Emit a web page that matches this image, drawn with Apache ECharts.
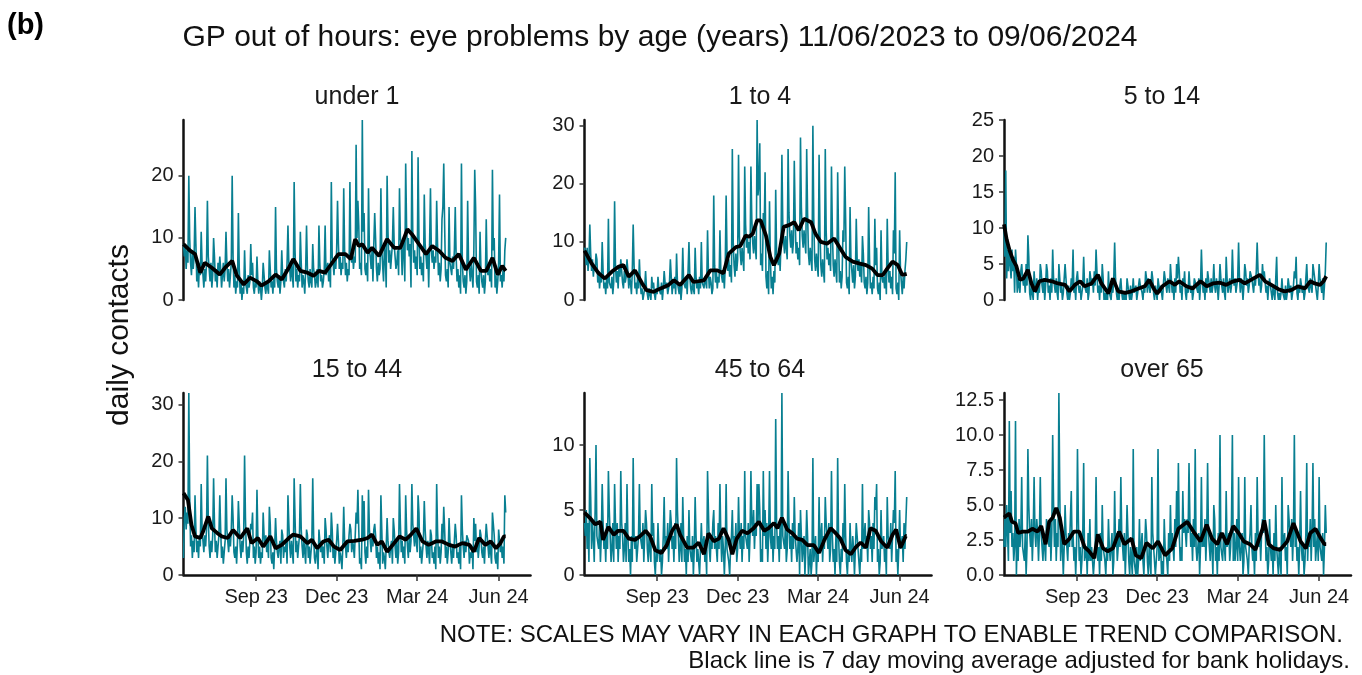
<!DOCTYPE html>
<html>
<head>
<meta charset="utf-8">
<script src="https://cdn.jsdelivr.net/npm/echarts@6/dist/echarts.min.js"></script>
<style>
  html, body { margin: 0; padding: 0; background: #fff; }
  #chart { width: 1362px; height: 675px; }
</style>
</head>
<body>
<div id="chart"></div>
<script>
// panels (age groups, years)
const panelTitles = ['under 1', '1 to 4', '5 to 14', '15 to 44', '45 to 64', 'over 65'];

// x axis: days since 11/06/2023
const tickDays = [82, 173, 264, 356];
const tickLabels = ['Sep 23', 'Dec 23', 'Mar 24', 'Jun 24'];

// y axis tops and tick labels per panel
const yMax = [29, 31, 25, 32, 14, 13];
const yTicks = [
  [0, 10, 20],
  [0, 10, 20, 30],
  [0, 5, 10, 15, 20, 25],
  [0, 10, 20, 30],
  [0, 5, 10],
  [0, 2.5, 5, 7.5, 10, 12.5]
];

// daily contacts: Sun 11/06/2023, then one row per week Mon..Sun
const under1Daily = [9,
  7,9,5,8,6,20,10, 6,4,8,5,7,15,9, 3,5,2,6,4,11,6, 4,2,5,3,6,16,7,
  5,3,6,2,4,10,7, 3,5,2,6,4,7,5, 2,4,6,3,5,11,6, 3,5,2,4,6,20,7,
  2,4,1,3,2,14,5, 1,3,0,2,1,8,3, 2,1,4,2,3,9,4, 6,2,1,3,2,7,3,
  1,3,2,0,2,6,4, 2,1,3,2,1,8,5, 2,3,1,4,2,15,5, 3,2,4,1,3,8,4,
  4,2,5,3,6,12,6, 5,3,6,4,2,19,8, 3,5,2,4,3,11,6, 2,4,3,1,5,12,5,
  3,2,5,3,2,9,5, 4,2,3,5,2,12,6, 3,4,2,3,5,12,4, 4,6,3,5,2,19,7,
  6,4,7,5,8,16,9, 5,7,4,6,5,18,8, 4,6,3,5,4,19,7, 6,8,5,7,6,25,10,
  16,12,5,6,4,29,11, 14,5,4,6,3,18,8, 7,5,8,3,9,14,10, 5,3,6,4,5,18,8,
  8,3,9,7,2,20,11, 6,8,5,7,9,15,9, 7,5,6,8,4,18,10, 9,4,8,10,3,22,12,
  8,10,7,9,2,24,11, 6,8,5,7,4,23,10, 5,7,4,6,3,17,9, 7,5,8,2,9,18,8,
  6,8,5,7,6,16,9, 4,6,3,5,13,15,22, 12,4,3,5,2,15,6, 6,4,7,5,8,15,7,
  3,5,2,4,1,22,6, 3,2,4,1,3,16,6, 5,3,6,4,2,8,21, 15,3,2,4,1,11,5,
  3,2,4,1,3,13,5, 4,6,3,5,2,21,8, 10,2,4,1,3,6,17, 3,4,2,5,3,8,10
];
const age1to4Daily = [9,
  8,6,9,5,7,13,8, 5,7,4,6,5,8,7, 3,5,2,4,3,10,5, 2,3,1,4,2,14,3,
  3,2,4,1,3,17,6, 3,5,2,6,4,7,5, 3,2,5,3,4,7,5, 2,4,3,1,5,13,6,
  2,3,1,4,2,7,3, 1,2,0,1,2,5,2, 1,0,2,1,0,4,2, 3,1,0,2,1,4,2,
  2,1,3,0,2,5,3, 2,3,1,2,3,7,4, 1,3,2,4,1,8,3, 2,1,3,0,2,9,3,
  3,2,4,1,5,10,4, 2,1,3,2,1,9,4, 2,3,1,4,2,10,3, 3,2,4,3,2,12,5,
  2,4,3,1,2,18,6, 3,5,2,4,3,12,5, 4,3,5,2,6,18,8, 5,7,4,6,3,26,10,
  6,4,8,5,7,25,11, 8,6,9,7,5,23,13, 9,11,8,10,7,23,14, 10,8,11,9,7,31,18,
  20,27,6,8,5,15,12, 22,4,2,5,1,17,7, 2,4,1,5,3,19,8, 8,6,9,5,10,25,13,
  10,8,11,9,7,26,15, 11,9,12,8,10,24,14, 8,10,7,9,6,28,16, 11,9,12,10,8,26,15,
  8,6,9,7,5,30,14, 7,5,8,6,4,25,12, 6,4,7,5,3,26,12, 7,9,6,8,5,23,12,
  6,4,7,5,3,22,11, 3,5,2,4,12,10,23, 14,3,2,4,1,16,7, 5,3,6,2,4,14,7,
  5,7,4,6,3,11,8, 3,2,4,1,3,16,7, 2,3,1,4,2,14,6, 9,2,1,3,0,12,4,
  3,4,2,5,1,14,6, 3,5,2,4,1,12,8, 22,2,1,3,0,12,5, 3,1,4,2,5,7,10
];
const age5to14Daily = [10,
  6,18,3,7,4,7,5, 3,7,4,6,1,7,5, 1,3,2,1,4,5,3, 2,3,1,5,2,9,6,
  1,0,2,1,0,4,2, 1,3,0,2,1,5,4, 2,1,3,0,2,5,4, 1,2,0,3,1,7,3,
  2,1,3,1,0,5,3, 1,2,0,1,3,5,3, 1,0,2,0,1,3,2, 7,1,2,0,3,4,2,
  1,2,0,1,2,6,2, 2,1,3,0,1,4,3, 2,3,1,4,2,7,4, 1,2,0,3,1,5,3,
  0,1,0,1,0,4,1, 1,0,2,1,3,8,3, 1,0,1,0,2,3,1, 0,1,0,1,0,3,2,
  1,0,2,0,1,3,1, 1,2,0,1,2,3,2, 2,1,0,2,1,4,3, 1,3,2,1,2,4,3,
  1,0,2,1,0,3,2, 1,2,1,0,2,4,3, 2,1,3,2,1,5,3, 1,2,0,3,1,5,3,
  6,4,1,2,0,3,2, 4,1,0,2,1,4,2, 1,2,0,1,3,3,2, 2,1,3,0,2,7,3,
  1,2,0,3,1,4,3, 2,1,3,1,2,5,2, 1,3,2,0,2,5,3, 2,1,3,1,0,6,3,
  1,2,3,1,2,7,3, 2,3,1,2,3,8,3, 1,3,2,0,2,5,4, 2,3,1,2,4,4,3,
  2,1,3,2,4,8,4, 2,3,1,2,5,3,4, 4,1,2,0,2,3,2, 1,0,2,1,0,3,6,
  1,0,1,0,1,3,1, 1,0,2,0,1,3,2, 1,2,0,1,2,4,3, 6,1,0,2,1,3,2,
  1,2,0,1,3,5,2, 2,1,3,2,1,5,4, 4,2,1,0,2,5,3, 2,1,3,0,2,4,8
];
const age15to44Daily = [3,
  10,12,8,11,9,32,14, 5,7,3,6,4,14,8, 4,6,3,7,5,16,8, 6,4,7,5,8,21,10,
  5,3,6,4,7,17,9, 4,6,3,5,7,14,8, 3,5,2,4,6,17,8, 6,4,7,5,8,14,10,
  4,3,5,2,6,13,9, 5,3,6,4,7,21,10, 4,2,5,3,6,9,8, 11,3,5,2,4,15,7,
  3,5,2,4,3,11,7, 5,7,4,6,3,12,9, 3,2,4,1,5,10,6, 4,3,5,6,2,8,7,
  3,5,4,6,2,14,9, 5,3,6,4,2,17,10, 4,6,3,5,7,16,8, 5,3,6,4,2,8,7,
  3,5,2,4,6,17,7, 3,2,4,5,1,8,6, 4,6,3,5,2,10,8, 5,3,6,7,4,11,8,
  3,5,2,4,6,9,6, 2,4,3,1,5,12,6, 5,3,6,4,7,9,8, 4,6,5,3,7,11,9,
  15,8,2,3,1,14,6, 13,4,2,5,3,15,8, 6,4,7,5,8,9,7, 3,5,2,4,1,14,8,
  2,4,3,1,5,10,6, 4,3,5,6,2,10,8, 5,3,6,2,4,16,9, 4,6,3,5,2,14,8,
  5,3,7,4,6,16,9, 7,5,8,6,4,14,11, 3,5,2,4,6,13,8, 5,3,6,4,2,8,7,
  3,4,2,5,1,16,8, 3,5,2,4,9,6,12, 8,3,5,2,4,10,6, 4,2,5,3,6,9,7,
  3,4,2,5,1,14,8, 5,3,6,4,7,7,6, 2,4,3,5,1,10,6, 9,4,6,3,5,8,7,
  4,3,5,2,6,9,7, 5,3,6,4,2,11,9, 7,3,2,4,1,8,6, 4,6,3,5,2,14,11
];
const age45to64Daily = [4,
  3,5,2,4,1,9,6, 2,4,3,1,5,10,3, 3,2,4,1,3,7,4, 2,3,1,4,2,8,5,
  3,1,2,4,1,7,4, 2,4,1,3,2,8,4, 3,1,2,4,1,7,3, 1,2,0,3,1,9,3,
  2,3,1,2,3,7,3, 3,2,4,1,3,5,4, 2,1,3,2,1,7,3, 4,1,0,2,1,4,2,
  1,2,0,1,3,6,2, 3,2,4,1,3,5,4, 2,3,1,4,2,9,5, 3,1,2,4,1,6,3,
  1,2,0,3,1,5,2, 2,1,3,0,2,6,3, 1,2,1,0,2,4,2, 2,3,1,2,0,8,5,
  2,1,3,2,4,5,2, 3,2,1,4,2,7,3, 1,3,2,0,2,7,2, 2,1,0,2,3,5,2,
  3,2,4,1,2,6,3, 2,4,1,3,2,8,3, 3,2,4,1,3,8,4, 3,5,2,4,3,7,4,
  7,5,1,2,1,8,3, 5,2,4,1,3,8,3, 2,4,1,3,2,12,4, 2,3,1,4,2,14,3,
  3,2,4,1,2,8,4, 2,3,1,4,2,6,3, 3,1,2,4,0,5,3, 1,2,3,0,2,5,3,
  0,1,2,0,1,9,1, 1,3,0,2,1,6,2, 2,4,1,3,2,6,4, 3,2,4,1,2,8,3,
  1,2,0,3,1,9,3, 1,0,2,1,4,2,7, 3,1,0,2,1,4,2, 1,3,2,0,2,4,3,
  2,1,0,2,1,7,2, 3,4,2,3,1,5,4, 2,3,1,4,2,6,5, 7,1,2,0,1,5,2,
  2,3,1,2,0,6,3, 3,2,4,1,3,5,4, 8,1,2,0,2,5,2, 2,3,1,4,2,4,6
];
const over65Daily = [2,
  4,2,5,3,1,11,3, 6,2,3,1,2,11,0, 3,1,4,2,3,7,2, 2,1,3,0,2,9,5,
  3,2,4,1,3,7,3, 2,4,3,1,3,7,3, 2,1,3,2,1,4,3, 3,2,4,1,3,10,5,
  2,4,1,3,2,13,6, 1,3,2,0,2,5,3, 2,1,3,2,4,6,2, 3,1,2,0,2,9,4,
  1,2,0,1,3,8,1, 1,2,0,3,1,4,1, 2,1,0,1,2,7,2, 1,2,0,3,1,5,2,
  2,1,0,2,1,4,2, 1,2,3,0,1,6,2, 3,1,2,4,2,7,3, 2,1,3,0,2,5,3,
  1,0,2,1,0,9,1, 1,0,2,0,1,4,1, 2,3,1,0,2,4,3, 1,0,2,1,0,7,3,
  2,1,0,1,2,9,1, 1,2,0,1,0,4,2, 2,1,0,3,1,5,2, 3,2,1,4,2,6,3,
  8,3,1,2,1,6,3, 4,3,2,4,3,8,4, 2,3,1,4,2,9,2, 1,2,3,0,2,7,2,
  3,2,4,1,3,8,3, 2,1,3,2,0,5,4, 1,2,0,3,1,10,2, 2,1,3,2,1,6,2,
  2,3,1,2,4,10,1, 3,1,2,4,1,7,2, 1,2,3,0,1,7,2, 2,1,0,2,3,5,2,
  1,2,0,3,1,7,3, 2,3,1,3,4,3,10, 4,1,2,0,1,4,2, 1,2,0,3,1,5,2,
  1,0,2,1,0,7,2, 2,3,1,2,0,5,4, 3,2,4,1,3,10,2, 3,1,2,0,2,6,2,
  1,2,0,1,3,8,1, 3,2,4,1,3,8,2, 4,1,2,3,1,7,2, 2,1,3,0,2,5,3
];

// 7 day moving average: [day, value]
const under1Avg = [[0,9],[2,9],[7,8],[13,7.4],[19,4.4],[24,6],[32,5.2],[41,4.1],[47,5.2],[55,6.3],[60,4],[68,2.5],[75,3.6],[83,3],[88,2.3],[96,3],[104,4.1],[111,3.3],[119,5.2],[124,6.6],[132,4.7],[140,4.4],[147,3.9],[153,4.7],[160,4.4],[168,6],[175,7.4],[183,7.4],[189,6.6],[194,9.8],[198,8.7],[202,9],[208,7.6],[213,8.4],[221,7.1],[230,9.8],[238,8.4],[245,8.4],[253,11.4],[258,10.6],[266,9],[274,7.4],[281,8.7],[289,7.9],[296,6.8],[304,6.3],[311,7.4],[319,4.9],[328,6.8],[336,4.7],[342,4.7],[349,6.8],[355,4.1],[360,5.5],[364,4.7]];
const age1to4Avg = [[0,8.5],[2,8.3],[8,6.3],[16,4.6],[23,3.7],[31,4.9],[38,5.7],[44,6],[50,4],[57,5.1],[65,2.9],[70,1.7],[78,1.4],[86,2],[95,2.6],[101,3.4],[108,2.6],[118,4.3],[123,3.1],[135,3.4],[142,5.1],[150,5.1],[157,4.6],[163,8],[171,9.1],[176,9.3],[182,11.1],[186,10.9],[190,11.4],[195,13.7],[199,13.7],[205,11.1],[210,7.4],[214,6],[220,8],[225,12.6],[231,12.9],[237,13.4],[242,12],[248,14],[256,13.4],[261,11.4],[267,10],[274,9.7],[282,10.6],[290,8.6],[295,7.4],[303,6.6],[310,6.3],[318,6],[325,5.4],[331,4.3],[337,4.3],[342,5.4],[348,6.6],[354,6],[359,4.3],[364,4.5]];
const age5to14Avg = [[0,10.5],[3,8.4],[6,7],[10,5.6],[14,4.7],[18,2.8],[22,3],[27,4.2],[31,2.3],[35,1.2],[40,2.6],[46,2.8],[54,2.6],[61,2.3],[69,2.1],[74,1.2],[80,2.1],[86,2.6],[91,1.9],[99,2.3],[106,3.5],[110,2.3],[118,0.9],[123,3],[129,1.2],[137,1],[144,1.2],[152,1.6],[159,1.9],[164,2.8],[170,1.4],[173,0.9],[179,1.9],[187,2.6],[193,2.1],[198,2.6],[206,1.9],[213,1.6],[222,2.6],[229,1.9],[236,2.3],[244,2.4],[251,2.1],[259,2.6],[266,2.8],[272,2.3],[279,2.8],[289,3.5],[295,2.6],[302,2.1],[310,1.5],[317,1.2],[325,1.4],[332,1.9],[340,1.6],[346,2.6],[351,2.3],[357,2.1],[361,2.6],[364,3.3]];
const age15to44Avg = [[0,14.4],[2,14.4],[5,13.2],[9,8.8],[13,6.8],[19,6.5],[22,7.6],[28,10.3],[32,8.2],[38,7.4],[43,6.8],[50,6.5],[56,7.9],[64,6.5],[72,8.2],[77,5.6],[84,6.5],[90,5],[98,6.8],[104,4.7],[111,5.3],[119,6.5],[124,7.1],[132,6.8],[140,5.6],[145,6.2],[151,4.7],[158,5.9],[164,6.2],[170,5],[177,4.4],[185,5.9],[193,6],[202,6.2],[208,6.5],[213,7.1],[219,5.3],[224,5.9],[230,4.1],[238,5.6],[244,6.8],[251,6.2],[257,7.1],[263,8.2],[270,5.9],[277,5.3],[285,5.9],[292,5.9],[300,5.3],[307,5],[315,5.6],[323,5.3],[328,4.1],[334,6.5],[341,5.3],[347,5.9],[353,4.7],[358,5.6],[362,6.8],[364,6.8]];
const age45to64Avg = [[0,4.8],[2,4.8],[6,4.4],[12,3.9],[18,4.1],[21,2.7],[27,3.7],[33,3.1],[38,3.4],[44,3.4],[50,2.8],[57,2.7],[63,3],[69,3.4],[74,3],[80,1.9],[87,1.7],[93,2.3],[99,3.4],[104,3.9],[108,3.1],[116,2.1],[123,2.1],[129,2.5],[135,1.6],[140,3.2],[146,2.6],[152,2.8],[157,3.6],[163,2.7],[167,1.6],[172,2.8],[178,3.4],[184,3.2],[191,3.6],[197,4.1],[203,3.4],[208,3.6],[214,4],[218,3.6],[223,4.4],[229,3.5],[235,3.2],[240,2.8],[246,2.7],[252,2.3],[259,2.3],[265,1.7],[271,2.7],[278,3.6],[284,3.2],[289,2.8],[295,1.9],[301,1.6],[306,2.1],[312,2.5],[318,2.1],[323,3.6],[329,3.4],[335,2.6],[342,2.1],[348,3.1],[352,3.5],[357,2.1],[363,3],[364,3]];
const over65Avg = [[0,4.1],[2,4.1],[6,4.4],[9,3.8],[13,3.7],[16,3],[21,3.1],[27,3.1],[32,3.3],[38,3.1],[42,3.5],[47,2.2],[51,3.8],[55,4.1],[59,4.8],[63,4.1],[68,2.2],[74,2.6],[79,3.1],[85,3.1],[91,2],[96,1.7],[102,1.2],[106,2.9],[112,1.9],[117,1.7],[123,1.9],[130,3.1],[136,2.2],[144,2.6],[149,1.4],[155,1.2],[161,2.3],[168,1.9],[174,2.4],[182,1.4],[190,1.9],[197,3.3],[207,3.8],[214,3.1],[222,2.4],[229,3.6],[235,2.6],[241,2.2],[246,3],[252,2.2],[259,3.5],[265,3],[271,2.4],[278,2.2],[284,1.8],[292,3.3],[294,3.9],[299,2.2],[305,1.9],[312,1.8],[320,2.4],[327,3.7],[335,2.4],[341,1.9],[346,3],[352,3.3],[358,2.6],[362,2.2],[364,2.2]];

const dailyData = [under1Daily, age1to4Daily, age5to14Daily, age15to44Daily, age45to64Daily, over65Daily];
const avgData = [under1Avg, age1to4Avg, age5to14Avg, age15to44Avg, age45to64Avg, over65Avg];

const FONT = "'Liberation Sans', Arial, sans-serif";
const TEAL = '#087f91';

// panel boxes
const lefts = [183.5, 584.5, 1004];
const tops = [120, 393];
const heights = [180, 182];
const panelW = 347;
const stripX = [357, 760, 1162];

const chart = echarts.init(document.getElementById('chart'));

let grid = [], xAxis = [], yAxis = [], series = [], graphic = [];

for (let i = 0; i < 6; i++) {
  const col = i % 3, row = Math.floor(i / 3);
  const bottomRow = row === 1;
  grid.push({ left: lefts[col], top: tops[row], width: panelW, height: heights[row] });

  xAxis.push({
    gridIndex: i,
    type: 'value',
    min: 0,
    max: 392,
    show: bottomRow,
    axisLine: { show: true, lineStyle: { color: '#111', width: 2.5 } },
    axisTick: { show: true, length: 6, customValues: tickDays, lineStyle: { color: '#333', width: 1.5 } },
    axisLabel: {
      customValues: tickDays,
      formatter: v => tickLabels[tickDays.indexOf(v)] || '',
      fontFamily: FONT, fontSize: 20, color: '#1a1a1a', margin: 12
    },
    splitLine: { show: false }
  });

  yAxis.push({
    gridIndex: i,
    type: 'value',
    min: 0,
    max: yMax[i],
    axisLine: { show: true, lineStyle: { color: '#111', width: 2.5 } },
    axisTick: { show: true, length: 5, customValues: yTicks[i], lineStyle: { color: '#333', width: 1.5 } },
    axisLabel: {
      customValues: yTicks[i],
      formatter: v => (i === 5 ? v.toFixed(1) : String(v)),
      fontFamily: FONT, fontSize: 20, color: '#1a1a1a', margin: 10
    },
    splitLine: { show: false }
  });

  series.push({
    type: 'line',
    xAxisIndex: i, yAxisIndex: i,
    data: dailyData[i].map((v, d) => [d, v]),
    showSymbol: false,
    lineStyle: { color: TEAL, width: 1.6 },
    animation: false
  });
  series.push({
    type: 'line',
    xAxisIndex: i, yAxisIndex: i,
    data: avgData[i],
    showSymbol: false,
    lineStyle: { color: '#000', width: 3.8 },
    animation: false
  });

  graphic.push({
    type: 'text',
    x: stripX[col],
    y: tops[row] - 23,
    style: { text: panelTitles[i], font: '25px ' + FONT, fill: '#1a1a1a', textAlign: 'center', textVerticalAlign: 'middle' }
  });
}

graphic.push(
  { type: 'text', x: 7, y: 26,
    style: { text: '(b)', font: 'bold 29px ' + FONT, fill: '#000', textAlign: 'left', textVerticalAlign: 'middle' } },
  { type: 'text', x: 660, y: 38,
    style: { text: 'GP out of hours: eye problems by age (years) 11/06/2023 to 09/06/2024', font: '30px ' + FONT, fill: '#111', textAlign: 'center', textVerticalAlign: 'middle' } },
  { type: 'text', x: 120, y: 335, rotation: Math.PI / 2,
    style: { text: 'daily contacts', font: '30px ' + FONT, fill: '#111', textAlign: 'center', textVerticalAlign: 'middle' } },
  { type: 'text', x: 1343, y: 635,
    style: { text: 'NOTE: SCALES MAY VARY IN EACH GRAPH TO ENABLE TREND COMPARISON.', font: '24px ' + FONT, fill: '#111', textAlign: 'right', textVerticalAlign: 'middle' } },
  { type: 'text', x: 1350, y: 661,
    style: { text: 'Black line is 7 day moving average adjusted for bank holidays.', font: '24px ' + FONT, fill: '#111', textAlign: 'right', textVerticalAlign: 'middle' } }
);

chart.setOption({
  animation: false,
  backgroundColor: '#fff',
  grid: grid,
  xAxis: xAxis,
  yAxis: yAxis,
  series: series,
  graphic: graphic
});
</script>
</body>
</html>
